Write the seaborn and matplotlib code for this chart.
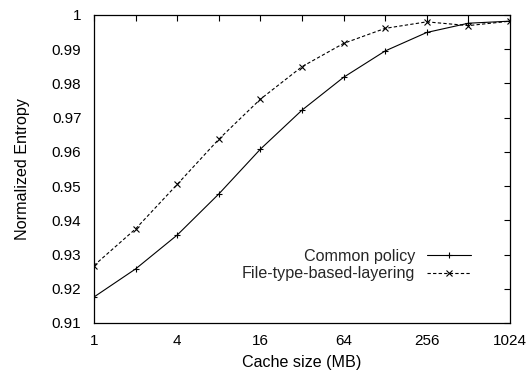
import matplotlib
matplotlib.use("Agg")
import matplotlib.pyplot as plt
import seaborn as sns
import pandas as pd
from matplotlib.ticker import FixedLocator, FixedFormatter, NullLocator, NullFormatter

# Cache sizes in MB
cache_mb = [1, 2, 4, 8, 16, 32, 64, 128, 256, 512, 1024]
# Normalized entropy per policy
common_policy = [0.9176, 0.9258, 0.9357, 0.9477, 0.9608, 0.9722,
                 0.9818, 0.9895, 0.9949, 0.9976, 0.9982]
file_type_layering = [0.9268, 0.9375, 0.9505, 0.9637, 0.9754, 0.9849,
                      0.9917, 0.9961, 0.9980, 0.9969, 0.9982]
series_names = ["Common policy", "File-type-based-layering"]

x_major = [1, 4, 16, 64, 256, 1024]
x_minor = [2, 8, 32, 128, 512]
y_ticks = [0.91, 0.92, 0.93, 0.94, 0.95, 0.96, 0.97, 0.98, 0.99, 1.0]
y_tick_labels = ["0.91", "0.92", "0.93", "0.94", "0.95", "0.96",
                 "0.97", "0.98", "0.99", "1"]

df_common = pd.DataFrame({"size": cache_mb, "entropy": common_policy})
df_file = pd.DataFrame({"size": cache_mb, "entropy": file_type_layering})

sns.set_theme(style="white")
plt.rcParams["font.family"] = ["Liberation Sans", "DejaVu Sans"]
plt.rcParams["font.size"] = 11

fig = plt.figure(figsize=(5.31, 3.74), dpi=100)
ax = fig.add_axes([94 / 531, 1 - 323 / 374, (510 - 94) / 531, (323 - 15) / 374])

sns.lineplot(data=df_common, x="size", y="entropy", ax=ax, color="black",
             linewidth=0.8, marker="+", markersize=5, markeredgewidth=0.8,
             markeredgecolor="black", label=series_names[0])
sns.lineplot(data=df_file, x="size", y="entropy", ax=ax, color="black",
             linewidth=0.8, linestyle=(0, (3, 2)), marker="x", markersize=4,
             markeredgewidth=0.8, markeredgecolor="black",
             label=series_names[1])

ax.set_xscale("log", base=2)
ax.set_xlim(1, 1024)
ax.set_ylim(0.91, 1.0)
ax.xaxis.set_major_locator(FixedLocator(x_major))
ax.xaxis.set_major_formatter(FixedFormatter([str(v) for v in x_major]))
ax.xaxis.set_minor_locator(FixedLocator(x_minor))
ax.xaxis.set_minor_formatter(NullFormatter())
ax.yaxis.set_major_locator(FixedLocator(y_ticks))
ax.yaxis.set_major_formatter(FixedFormatter(y_tick_labels))
ax.yaxis.set_minor_locator(NullLocator())

ax.tick_params(axis="both", which="both", direction="in", top=True,
               right=True, color="black", width=0.8, labelsize=11,
               labelcolor="black")
ax.tick_params(axis="both", which="major", length=4)
ax.tick_params(axis="x", which="minor", length=4)
ax.tick_params(axis="x", which="major", pad=8)
ax.tick_params(axis="y", which="major", pad=9)

for spine in ax.spines.values():
    spine.set_visible(True)
    spine.set_color("black")
    spine.set_linewidth(0.9)

ax.set_xlabel("Cache size (MB)", fontsize=11.6, color="black", labelpad=5)
ax.set_ylabel("Normalized Entropy", fontsize=11.6, color="black", labelpad=16)

leg = ax.legend(loc="lower right", bbox_to_anchor=(0.906, 0.135),
                markerfirst=False, frameon=False, fontsize=11.6,
                handlelength=2.75, handletextpad=0.7, labelspacing=0.15,
                borderpad=0, borderaxespad=0)

fig.savefig("out.png", dpi=100, facecolor="white")
